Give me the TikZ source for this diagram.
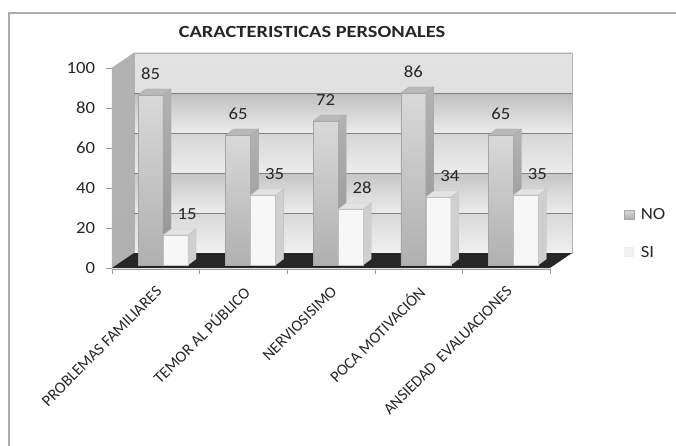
\documentclass[tikz,border=0pt]{standalone}
\usepackage{fontspec}
\setmainfont{Carlito}
\usetikzlibrary{positioning}

\begin{document}
\begin{tikzpicture}[x=1pt,y=-1pt,
nofront/.style={draw=gray!70,line width=0.3pt,top color=gray!30,middle color=gray!55,bottom color=gray!62},
noside/.style={draw=gray!70,line width=0.3pt,top color=gray!60,bottom color=gray!85},
notop/.style={draw=gray!70,line width=0.3pt,fill=gray!55},
sifront/.style={draw=gray!50,line width=0.3pt,fill=gray!6},
siside/.style={draw=gray!50,line width=0.3pt,fill=gray!38},
sitop/.style={draw=gray!50,line width=0.3pt,fill=gray!22},
grid/.style={gray,line width=0.8pt},
axis/.style={gray!80,line width=0.6pt},
num/.style={font=\fontsize{17}{19}\selectfont,xscale=1.1,text=black!85},
tick/.style={num,anchor=east},
cat/.style={font=\fontsize{16}{18}\selectfont,anchor=east,rotate=45,inner sep=0pt,text=black!85}]

\useasboundingbox (0,0) rectangle (676,446);
\draw[gray!65,line width=1.2pt] (9,446) -- (9,13) -- (676,13);

\node[font=\bfseries\fontsize{17}{20}\selectfont,xscale=1.2,text=black!85] (title) at (312,32) {CARACTERISTICAS PERSONALES};

% back wall, side wall, floor
\foreach \v/\t/\b in {0/30/12,20/45/15,40/32/15,60/50/15,80/22/24}
  \shade[top color=gray!\t,bottom color=gray!\b] (134,{213-2*\v}) rectangle (572,{253-2*\v});
\draw[gray!60] (134,53) rectangle (572,253);
\foreach \v in {20,40,...,80}
  \draw[grid] (134,{253-2*\v}) -- (572,{253-2*\v});
\shade[draw=gray!60,top color=gray!60,middle color=gray!80,bottom color=gray!62] (112,268) -- (112,68) -- (134,53) -- (134,253) -- cycle;
\fill[black!85] (112,268) -- (550,268) -- (572,253) -- (134,253) -- cycle;

% axes
\foreach \v in {0,20,...,100} {
  \draw[axis] (106,{268-2*\v}) -- (112,{268-2*\v});
  \node[tick] (y\v) at (99,{268-2*\v}) {\v};
}
\draw[axis] (112,269) -- (550,269);
\foreach \i in {0,...,5}
  \draw[axis] ({112+87.6*\i},269) -- ({112+87.6*\i},274);

% bars
\foreach \i/\no/\si/\lab in {0/85/15/PROBLEMAS FAMILIARES,1/65/35/TEMOR AL PÚBLICO,2/72/28/NERVIOSISIMO,3/86/34/POCA MOTIVACIÓN,4/65/35/ANSIEDAD\ \ EVALUACIONES} {
  \pgfmathsetmacro\xa{112+87.6*\i+26}
  \pgfmathsetmacro\xb{\xa+25}
  \pgfmathsetmacro\ya{265-2*\no}
  \pgfmathsetmacro\yb{265-2*\si}
  \shade[nofront] (\xa,265) rectangle (\xb,\ya);
  \shade[noside] (\xb,265) -- (\xb,\ya) -- (\xb+8,\ya-6) -- (\xb+8,259) -- cycle;
  \fill[notop] (\xa,\ya) -- (\xb,\ya) -- (\xb+8,\ya-6) -- (\xa+8,\ya-6) -- cycle;
  \fill[sifront] (\xb,265) rectangle (\xb+25,\yb);
  \fill[siside] (\xb+25,265) -- (\xb+25,\yb) -- (\xb+33,\yb-6) -- (\xb+33,259) -- cycle;
  \fill[sitop] (\xb,\yb) -- (\xb+25,\yb) -- (\xb+33,\yb-6) -- (\xb+8,\yb-6) -- cycle;
  \node[num] (no\i) at (\xa+12.5,\ya-21) {\no};
  \node[num] (si\i) at (\xb+24,\yb-21) {\si};
  \node[cat] (cat\i) at ({112+87.6*\i+47},289) {\lab};
}

% legend
\shade[nofront] (624,210) rectangle (634,219);
\node[num,anchor=west] (legno) at (637,214) {NO};
\fill[gray!12] (624,247) rectangle (634,257);
\node[num,anchor=west] (legsi) at (637,252) {SI};
\end{tikzpicture}
\end{document}
